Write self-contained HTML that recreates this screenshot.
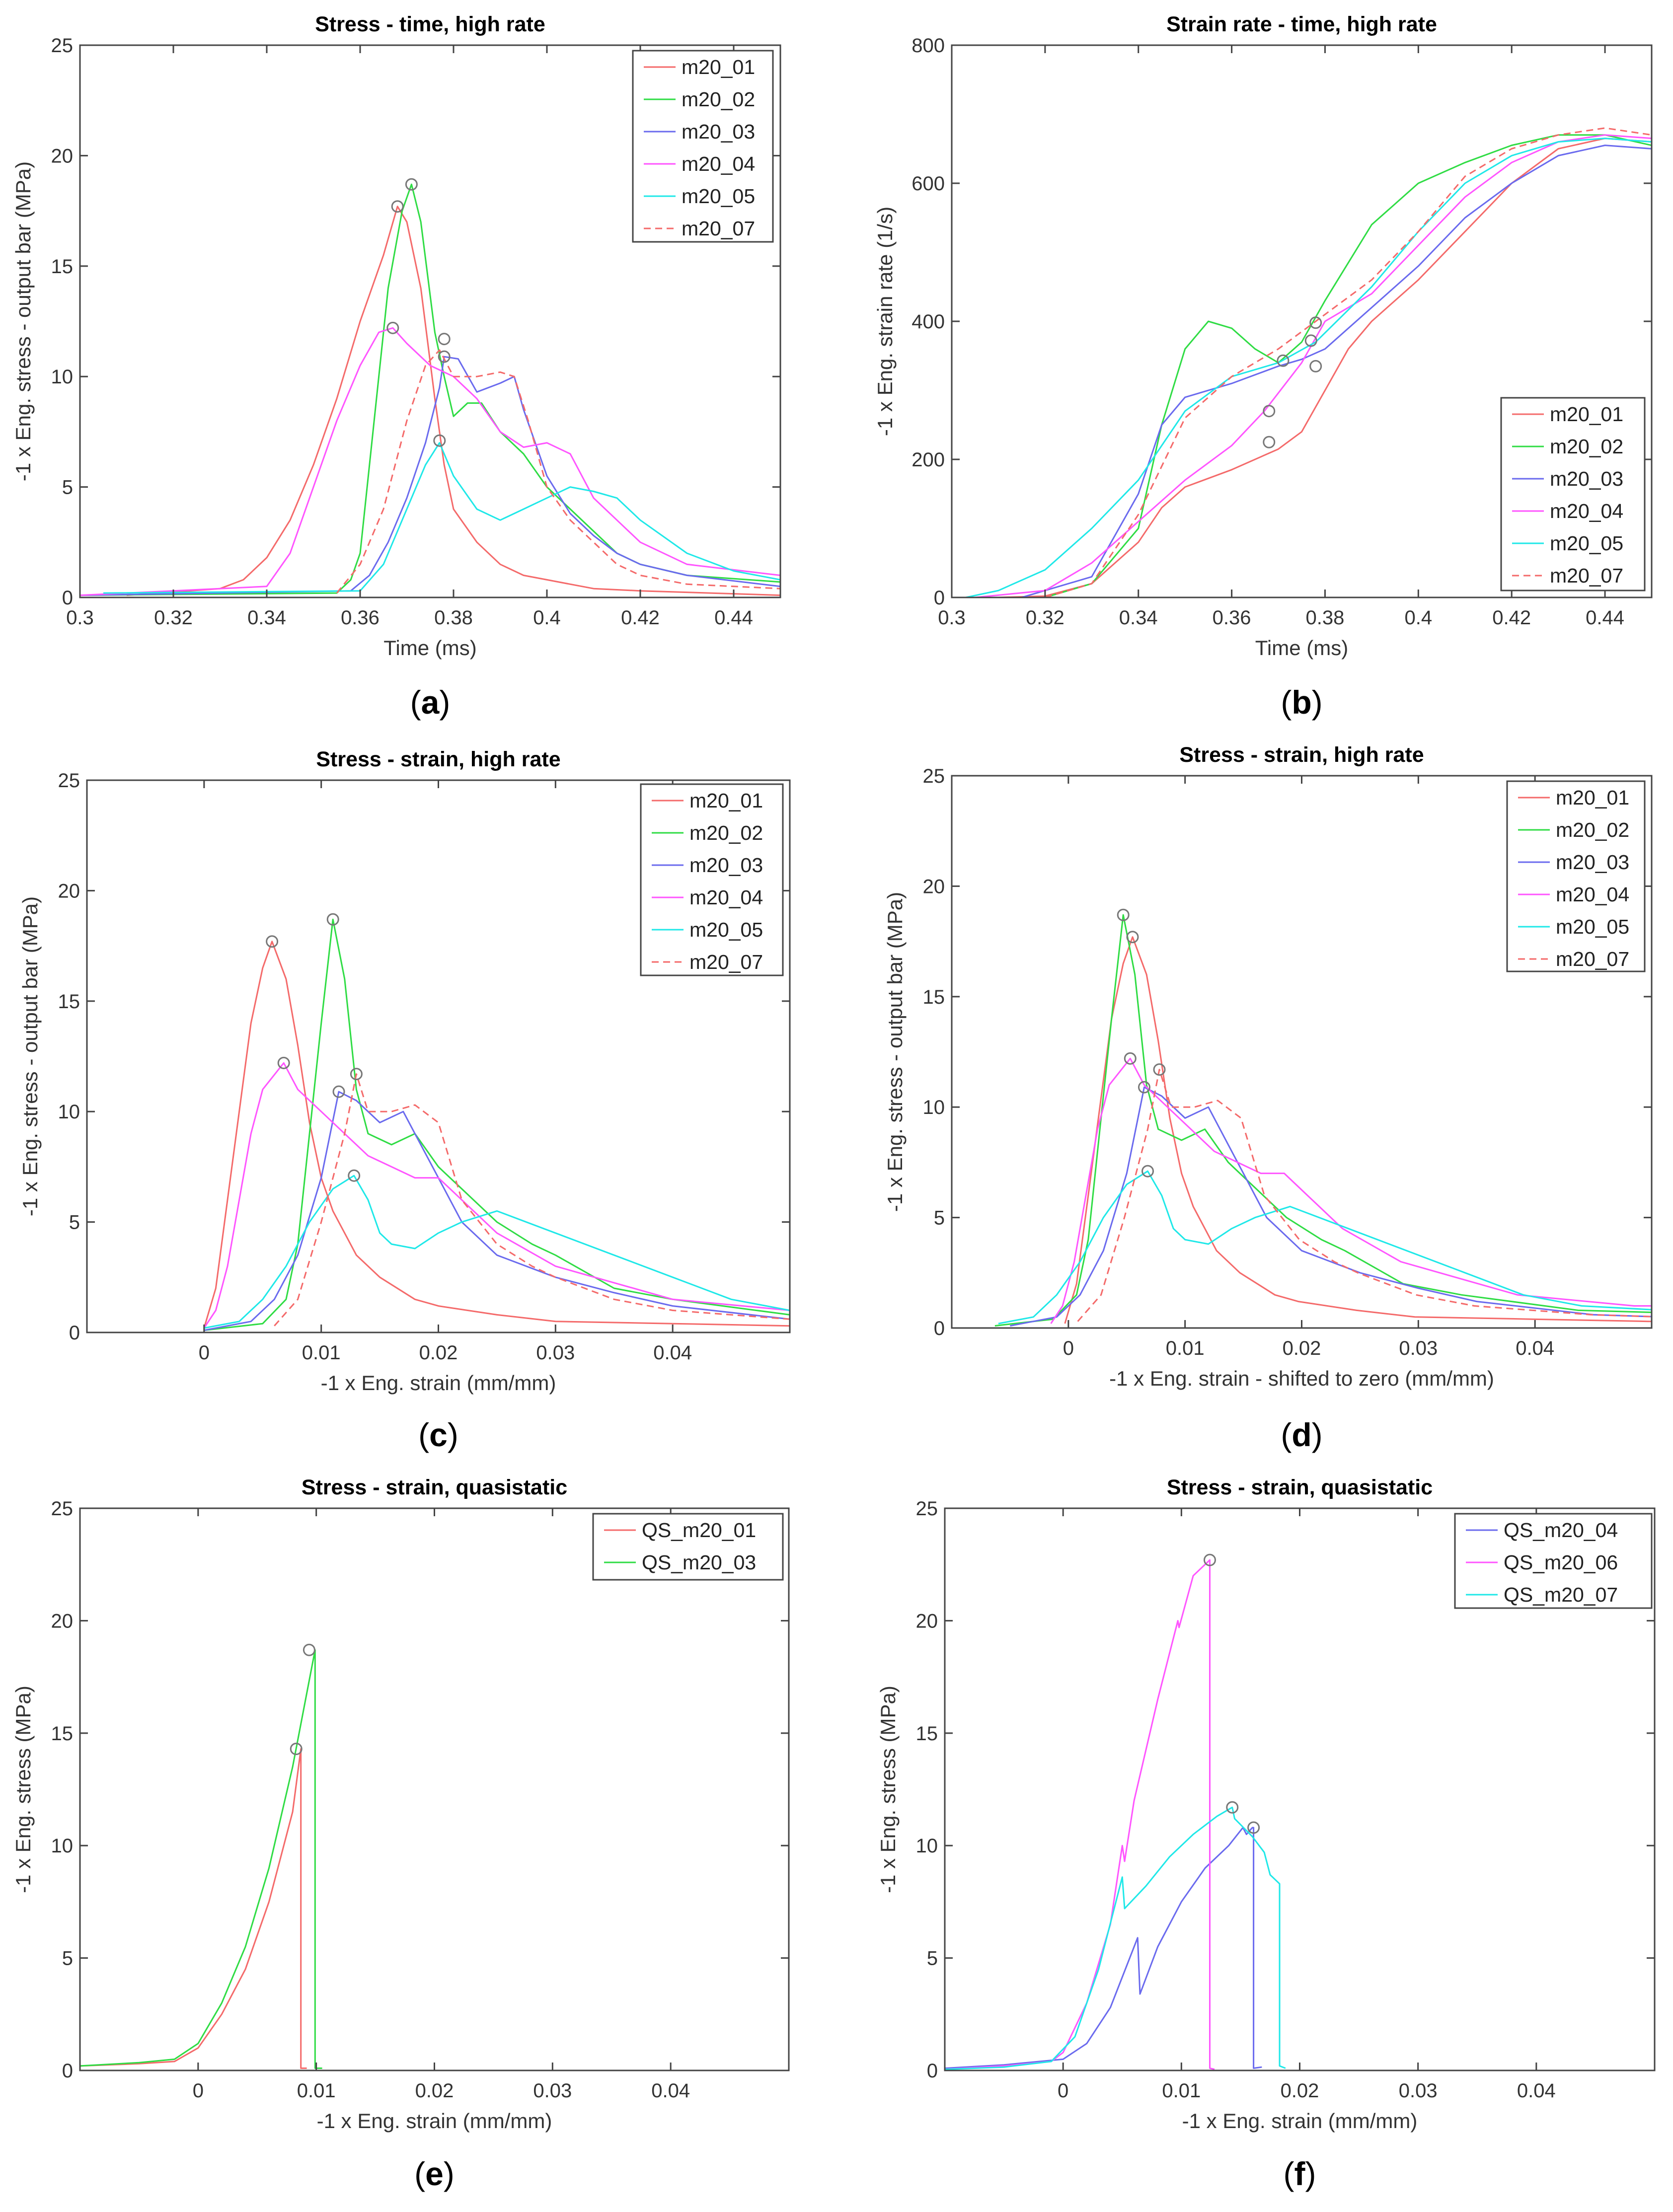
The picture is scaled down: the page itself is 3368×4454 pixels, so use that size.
<!DOCTYPE html>
<html><head><meta charset="utf-8"><style>
html,body{margin:0;padding:0;background:#fff}
svg text{font-family:"Liberation Sans",Arial,sans-serif}
</style></head><body>
<svg id="fig" xmlns="http://www.w3.org/2000/svg" width="3368" height="4449" viewBox="0 0 3368 4449"></svg>
<script>
// ---- Data (panel a: stress vs time) ----
const aX01=[0.31,0.33,0.335,0.34,0.345,0.35,0.355,0.36,0.365,0.368,0.37,0.373,0.376,0.378,0.38,0.385,0.39,0.395,0.4,0.41,0.42,0.45];
const aY01=[0.1,0.4,0.8,1.8,3.5,6,9,12.5,15.5,17.7,17,14,9,6,4,2.5,1.5,1,0.8,0.4,0.3,0.1];
const aX02=[0.3,0.355,0.358,0.36,0.363,0.366,0.369,0.371,0.373,0.376,0.378,0.38,0.383,0.386,0.39,0.395,0.4,0.405,0.41,0.415,0.42,0.43,0.45];
const aY02=[0.1,0.2,0.8,2,8,14,17.5,18.7,17,12,10,8.2,8.8,8.8,7.5,6.5,5,4,3,2,1.5,1,0.7];
const aX03=[0.3,0.358,0.362,0.366,0.37,0.374,0.377,0.378,0.381,0.385,0.39,0.393,0.395,0.4,0.405,0.41,0.415,0.42,0.43,0.45];
const aY03=[0.1,0.3,1,2.5,4.5,7,9.5,10.9,10.8,9.3,9.7,10,8.5,5.5,3.8,2.8,2,1.5,1,0.5];
const aX04=[0.3,0.34,0.345,0.35,0.355,0.36,0.364,0.367,0.37,0.375,0.38,0.385,0.39,0.395,0.4,0.405,0.41,0.415,0.42,0.43,0.45];
const aY04=[0.1,0.5,2,5,8,10.5,12,12.2,11.5,10.5,10,9,7.5,6.8,7,6.5,4.5,3.5,2.5,1.5,1];
const aX05=[0.305,0.36,0.365,0.37,0.374,0.377,0.38,0.385,0.39,0.395,0.4,0.405,0.41,0.415,0.42,0.43,0.44,0.45];
const aY05=[0.2,0.3,1.5,4,6,7,5.5,4,3.5,4,4.5,5,4.8,4.5,3.5,2,1.2,0.8];
const aX07=[0.355,0.36,0.365,0.37,0.374,0.377,0.38,0.385,0.39,0.393,0.396,0.4,0.405,0.41,0.415,0.42,0.43,0.45];
const aY07=[0.2,1.5,4,8,10.5,11.2,10,10,10.2,10,8,5,3.5,2.5,1.5,1,0.6,0.4];
const aPeakX=[0.368,0.371,0.378,0.367,0.377,0.378];
const aPeakY=[17.7,18.7,10.9,12.2,7.1,11.7];
// ---- panel b: strain rate vs time ----
const bX01=[0.31,0.32,0.33,0.34,0.345,0.35,0.36,0.37,0.375,0.38,0.385,0.39,0.4,0.41,0.42,0.43,0.44,0.45];
const bY01=[0,2,20,80,130,160,185,215,240,300,360,400,460,530,600,650,665,660];
const bX02=[0.32,0.33,0.34,0.345,0.35,0.355,0.36,0.365,0.37,0.375,0.38,0.39,0.4,0.41,0.42,0.43,0.44,0.45];
const bY02=[0,20,100,250,360,400,390,360,340,370,430,540,600,630,655,670,670,655];
const bX03=[0.315,0.33,0.34,0.345,0.35,0.36,0.37,0.375,0.38,0.39,0.4,0.41,0.42,0.43,0.44,0.45];
const bY03=[0,30,150,250,290,310,335,345,360,420,480,550,600,640,655,650];
const bX04=[0.305,0.32,0.33,0.34,0.35,0.36,0.367,0.375,0.38,0.39,0.4,0.41,0.42,0.43,0.44,0.45];
const bY04=[0,10,50,110,170,220,270,340,400,440,510,580,630,660,670,665];
const bX05=[0.303,0.31,0.32,0.33,0.34,0.35,0.36,0.37,0.378,0.39,0.4,0.41,0.42,0.43,0.44,0.45];
const bY05=[0,10,40,100,170,270,320,340,370,450,530,600,640,660,665,660];
const bX07=[0.32,0.33,0.34,0.35,0.36,0.37,0.378,0.39,0.4,0.41,0.42,0.43,0.44,0.45];
const bY07=[0,20,120,260,320,360,400,460,530,610,650,670,680,670];
const bPeakX=[0.368,0.368,0.371,0.377,0.378,0.378];
const bPeakY=[270,225,343,372,398,335];
// ---- panel c: stress vs strain ----
const cX01=[0,0.001,0.002,0.003,0.004,0.005,0.0058,0.007,0.008,0.009,0.01,0.011,0.012,0.013,0.015,0.018,0.02,0.025,0.03,0.04,0.05,0.056];
const cY01=[0.2,2,6,10,14,16.5,17.7,16,13,9.5,7,5.5,4.5,3.5,2.5,1.5,1.2,0.8,0.5,0.4,0.3,0.3];
const cX02=[0,0.005,0.007,0.008,0.009,0.01,0.011,0.012,0.013,0.014,0.016,0.018,0.02,0.022,0.025,0.028,0.03,0.035,0.04,0.05,0.057];
const cY02=[0.1,0.4,1.5,4,9,14,18.7,16,11,9,8.5,9,7.5,6.5,5,4,3.5,2,1.5,0.8,0.7];
const cX03=[0,0.004,0.006,0.008,0.01,0.0115,0.013,0.015,0.017,0.018,0.02,0.022,0.025,0.03,0.035,0.04,0.05,0.056];
const cY03=[0.1,0.5,1.5,3.5,7,10.9,10.5,9.5,10,9,7,5,3.5,2.5,1.8,1.2,0.6,0.5];
const cX04=[0,0.001,0.002,0.003,0.004,0.005,0.0068,0.008,0.01,0.012,0.014,0.016,0.018,0.02,0.022,0.025,0.03,0.04,0.05,0.053];
const cY04=[0.2,1,3,6,9,11,12.2,11,10,9,8,7.5,7,7,6,4.5,3,1.5,1,1];
const cX05=[0,0.003,0.005,0.007,0.009,0.011,0.0128,0.014,0.015,0.016,0.018,0.02,0.022,0.025,0.03,0.035,0.04,0.045,0.05,0.057];
const cY05=[0.2,0.5,1.5,3,5,6.5,7.1,6,4.5,4,3.8,4.5,5,5.5,4.5,3.5,2.5,1.5,1,0.8];
const cX07=[0.006,0.008,0.01,0.012,0.013,0.014,0.016,0.018,0.02,0.022,0.025,0.028,0.03,0.035,0.04,0.05,0.056];
const cY07=[0.3,1.5,5,9,11.7,10,10,10.3,9.5,6,4,3,2.5,1.5,1,0.6,0.5];
const cPeakX=[0.0058,0.011,0.0115,0.0068,0.0128,0.013];
const cPeakY=[17.7,18.7,10.9,12.2,7.1,11.7];
// ---- panel d: strain shift per series (shifted to zero) ----
const dShift=[-0.0003,-0.0063,-0.005,-0.0015,-0.006,-0.0052];
// ---- panel e: quasistatic ----
const eX01=[-0.01,-0.005,-0.002,0,0.002,0.004,0.006,0.008,0.0087,0.0087,0.0092];
const eY01=[0.2,0.3,0.4,1,2.5,4.5,7.5,11.5,14.3,0.1,0.1];
const eX03=[-0.01,-0.005,-0.002,0,0.002,0.004,0.006,0.008,0.0099,0.0099,0.0105];
const eY03=[0.2,0.35,0.5,1.2,3,5.5,9,13.5,18.7,0.1,0.1];
const ePeakX=[0.0083,0.0094];
const ePeakY=[14.3,18.7];
// ---- panel f: quasistatic ----
const fX04=[-0.01,-0.005,0,0.002,0.004,0.0063,0.0065,0.008,0.01,0.012,0.014,0.0152,0.0155,0.016,0.0161,0.0161,0.0168];
const fY04=[0.1,0.25,0.5,1.2,2.8,5.9,3.4,5.5,7.5,9,10,10.8,10.5,10.8,10.8,0.1,0.15];
const fX06=[-0.01,-0.005,-0.001,0,0.002,0.004,0.005,0.0052,0.006,0.008,0.0097,0.0098,0.011,0.0124,0.0124,0.0128];
const fY06=[0.05,0.2,0.4,0.8,3,6.5,10,9.3,12,16.5,20,19.7,22,22.7,0.1,0.05];
const fX07=[-0.01,-0.005,-0.001,0.001,0.003,0.005,0.0052,0.007,0.009,0.011,0.013,0.0143,0.0145,0.016,0.017,0.0175,0.0183,0.0183,0.0188];
const fY07=[0.05,0.15,0.4,1.5,4.5,8.6,7.2,8.2,9.5,10.5,11.3,11.7,11.2,10.4,9.7,8.7,8.3,0.2,0.1];
const fPeakX=[0.0124,0.0143,0.0161];
const fPeakY=[22.7,11.7,10.8];

const COL={r:'#f46a6a',g:'#2fdc44',b:'#6a6aee',m:'#ff55ff',c:'#1fe8e8'};
const NS='http://www.w3.org/2000/svg';
const svg=document.getElementById('fig');
const defs=document.createElementNS(NS,'defs');svg.appendChild(defs);
function mk(tag,attrs,parent){const e=document.createElementNS(NS,tag);for(const k in attrs)e.setAttribute(k,attrs[k]);(parent||svg).appendChild(e);return e;}

function panel(p){
  const g=mk('g',{});
  
  
  const sx=v=>p.L+(v-p.x0)/(p.x1-p.x0)*(p.R-p.L);
  const sy=v=>p.B-(v-p.y0)/(p.y1-p.y0)*(p.B-p.T);
  const cp=mk('clipPath',{id:'clip-'+p.name},defs);
  mk('rect',{x:p.L,y:p.T-20,width:p.R-p.L,height:p.B-p.T+20},cp);
  const t=mk('text',{x:(p.L+p.R)/2,y:p.T-28,'text-anchor':'middle','font-size':43,'font-weight':'bold',fill:'#000'},g);
  t.textContent=p.title;
  
  
  const sg=mk('g',{'clip-path':'url(#clip-'+p.name+')'},g);
  p.series.forEach(s=>{
    let d='';
    s.x.forEach((xv,i)=>{d+=(i?'L':'M')+sx(xv+(s.sh||0)).toFixed(1)+','+sy(s.y[i]).toFixed(1);});
    const pa=mk('path',{d:d,fill:'none',stroke:s.c,'stroke-width':3,'stroke-linejoin':'round'},sg);
    if(s.dash)pa.setAttribute('stroke-dasharray','14,9');
    
    
  });
  p.px.forEach((xv,i)=>{
    const c=mk('circle',{cx:sx(xv),cy:sy(p.py[i]),r:11,fill:'none',stroke:'#777','stroke-width':3},g);
    
    
  });
  const bx=mk('rect',{x:p.L,y:p.T,width:p.R-p.L,height:p.B-p.T,fill:'none',stroke:'#444','stroke-width':3},g);
  
  
  p.xt.forEach(v=>{
    const X=sx(v);
    mk('line',{x1:X,x2:X,y1:p.B,y2:p.B-16,stroke:'#444','stroke-width':3},g);
    mk('line',{x1:X,x2:X,y1:p.T,y2:p.T+16,stroke:'#444','stroke-width':3},g);
    const tl=mk('text',{x:X,y:p.B+54,'text-anchor':'middle','font-size':40,fill:'#333'},g);
    tl.textContent=String(v);
    
    
  });
  p.yt.forEach(v=>{
    const Y=sy(v);
    mk('line',{x1:p.L,x2:p.L+16,y1:Y,y2:Y,stroke:'#444','stroke-width':3},g);
    mk('line',{x1:p.R,x2:p.R-16,y1:Y,y2:Y,stroke:'#444','stroke-width':3},g);
    const tl=mk('text',{x:p.L-14,y:Y+14,'text-anchor':'end','font-size':40,fill:'#333'},g);
    tl.textContent=String(v);
    
    
  });
  const xl=mk('text',{x:(p.L+p.R)/2,y:p.B+116,'text-anchor':'middle','font-size':42,fill:'#333'},g);
  xl.textContent=p.xlab;
  
  
  const yx=p.L-p.ylOff;const yy=(p.T+p.B)/2;
  const yl=mk('text',{x:yx,y:yy,'text-anchor':'middle','font-size':42,fill:'#333',transform:'rotate(-90 '+yx+' '+yy+')'},g);
  yl.textContent=p.ylab;
  
  
  const lg=p.leg;
  const lr=mk('rect',{x:lg.x,y:lg.y,width:lg.w,height:lg.h,fill:'#fff',stroke:'#444','stroke-width':3},g);
  
  
  p.series.forEach((s,i)=>{
    const Y=lg.y+33+i*65;
    const ln=mk('line',{x1:lg.x+22,x2:lg.x+86,y1:Y,y2:Y,stroke:s.c,'stroke-width':3},g);
    if(s.dash)ln.setAttribute('stroke-dasharray','14,9');
    const lt=mk('text',{x:lg.x+98,y:Y+14,'font-size':41,fill:'#222'},g);
    lt.textContent=s.n;
    
    
  });
  const pl=mk('text',{x:(p.L+p.R)/2,y:p.letY,'text-anchor':'middle','font-size':66,fill:'#000','font-family':'"Liberation Serif",serif'},g);
  pl.innerHTML='(<tspan font-weight="bold">'+p.letter+'</tspan>)';
  
  
}

const tT=[0.3,0.32,0.34,0.36,0.38,0.4,0.42,0.44];
const sT=[0,0.01,0.02,0.03,0.04];
const yS=[0,5,10,15,20,25];
const hr=(A)=>[
 {n:'m20_01',c:COL.r,x:A[0],y:A[1]},{n:'m20_02',c:COL.g,x:A[2],y:A[3]},{n:'m20_03',c:COL.b,x:A[4],y:A[5]},
 {n:'m20_04',c:COL.m,x:A[6],y:A[7]},{n:'m20_05',c:COL.c,x:A[8],y:A[9]},{n:'m20_07',c:COL.r,x:A[10],y:A[11],dash:1}];

panel({name:'chart-a',title:'Stress - time, high rate',letter:'a',L:161,R:1571,T:91,B:1203,x0:0.3,x1:0.45,y0:0,y1:25,xt:tT,yt:yS,
 xlab:'Time (ms)',ylab:'-1 x Eng. stress - output bar (MPa)',ylOff:100,letY:1437,
 series:hr([aX01,aY01,aX02,aY02,aX03,aY03,aX04,aY04,aX05,aY05,aX07,aY07]),px:aPeakX,py:aPeakY,
 leg:{x:1274,y:102,w:282,h:385}});
panel({name:'chart-b',title:'Strain rate - time, high rate',letter:'b',L:1916,R:3325,T:91,B:1203,x0:0.3,x1:0.45,y0:0,y1:800,xt:tT,yt:[0,200,400,600,800],
 xlab:'Time (ms)',ylab:'-1 x Eng. strain rate (1/s)',ylOff:120,letY:1437,
 series:hr([bX01,bY01,bX02,bY02,bX03,bY03,bX04,bY04,bX05,bY05,bX07,bY07]),px:bPeakX,py:bPeakY,
 leg:{x:3022,y:801,w:289,h:388}});
panel({name:'chart-c',title:'Stress - strain, high rate',letter:'c',L:175,R:1590,T:1571,B:2683,x0:-0.01,x1:0.05,y0:0,y1:25,xt:sT,yt:yS,
 xlab:'-1 x Eng. strain (mm/mm)',ylab:'-1 x Eng. stress - output bar (MPa)',ylOff:100,letY:2912,
 series:hr([cX01,cY01,cX02,cY02,cX03,cY03,cX04,cY04,cX05,cY05,cX07,cY07]),px:cPeakX,py:cPeakY,
 leg:{x:1290,y:1579,w:286,h:385}});
const dSeries=hr([cX01,cY01,cX02,cY02,cX03,cY03,cX04,cY04,cX05,cY05,cX07,cY07]);
dSeries.forEach((s,i)=>{s.sh=dShift[i];});
panel({name:'chart-d',title:'Stress - strain, high rate',letter:'d',L:1916,R:3325,T:1562,B:2674,x0:-0.01,x1:0.05,y0:0,y1:25,xt:sT,yt:yS,
 xlab:'-1 x Eng. strain - shifted to zero (mm/mm)',ylab:'-1 x Eng. stress - output bar (MPa)',ylOff:100,letY:2912,
 series:dSeries,px:cPeakX.map((v,i)=>v+dShift[i]),py:cPeakY,
 leg:{x:3034,y:1573,w:277,h:383}});
panel({name:'chart-e',title:'Stress - strain, quasistatic',letter:'e',L:161,R:1588,T:3037,B:4169,x0:-0.01,x1:0.05,y0:0,y1:25,xt:sT,yt:yS,
 xlab:'-1 x Eng. strain (mm/mm)',ylab:'-1 x Eng. stress (MPa)',ylOff:100,letY:4400,
 series:[{n:'QS_m20_01',c:COL.r,x:eX01,y:eY01},{n:'QS_m20_03',c:COL.g,x:eX03,y:eY03}],px:ePeakX,py:ePeakY,
 leg:{x:1194,y:3048,w:382,h:133}});
panel({name:'chart-f',title:'Stress - strain, quasistatic',letter:'f',L:1902,R:3331,T:3037,B:4169,x0:-0.01,x1:0.05,y0:0,y1:25,xt:sT,yt:yS,
 xlab:'-1 x Eng. strain (mm/mm)',ylab:'-1 x Eng. stress (MPa)',ylOff:100,letY:4400,
 series:[{n:'QS_m20_04',c:COL.b,x:fX04,y:fY04},{n:'QS_m20_06',c:COL.m,x:fX06,y:fY06},{n:'QS_m20_07',c:COL.c,x:fX07,y:fY07}],px:fPeakX,py:fPeakY,
 leg:{x:2929,y:3048,w:396,h:190}});
</script>
</body></html>
